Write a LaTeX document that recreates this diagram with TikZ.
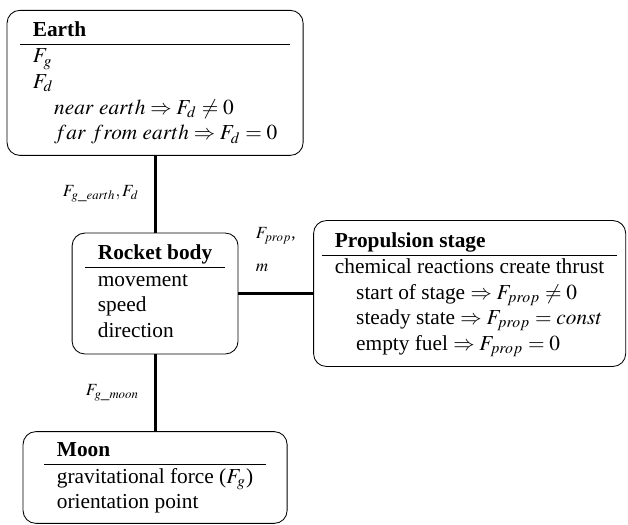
\documentclass[tikz,border=0pt]{standalone}
\usepackage{mathptmx}
\usepackage{fontspec}
\setmainfont{Liberation Serif}
\usetikzlibrary{positioning}

\begin{document}
\begin{tikzpicture}[
      node distance=36pt and 35pt,
      block/.style={draw,rounded corners=6pt,inner xsep=4pt,inner ysep=3pt},
      link/.style={line width=1.4pt},
      lbl/.style={font=\footnotesize},
    ]
    \useasboundingbox (-72.7pt,-108.1pt) rectangle (221.7pt,137.6pt);

    % central block
    \node[block,minimum width=77.8pt,minimum height=56.7pt] (rocket) at (0,0)
      {\begin{tabular}{l}\textbf{Rocket body}\\\hline
        movement\\
        speed\\
        direction
      \end{tabular}};

    % surrounding blocks
    \node[block,above=of rocket,minimum width=138.8pt,minimum height=68pt] (earth)
      {\begin{tabular}{l}\textbf{Earth}\\\hline
        $F_g$\\
        $F_d$\\
        \quad$near\ earth \Rightarrow F_d \neq 0$\\
        \quad$far\ from\ earth \Rightarrow F_d = 0$
      \end{tabular}};
    \node[block,right=of rocket,minimum width=145.8pt,minimum height=68.4pt] (prop)
      {\begin{tabular}{l}\textbf{Propulsion stage}\\\hline
        chemical reactions create thrust\\
        \quad start of stage $\Rightarrow F_{prop} \neq 0$\\
        \quad steady state $\Rightarrow F_{prop} = const$\\
        \quad empty fuel $\Rightarrow F_{prop} = 0$
      \end{tabular}};
    \node[block,below=of rocket,minimum width=123.8pt,minimum height=43pt] (moon)
      {\begin{tabular}{l}\textbf{Moon}\\\hline
        gravitational force ($F_g$)\\
        orientation point
      \end{tabular}};

    % connections
    \draw[link] (earth) -- (rocket)
      node[lbl,midway,left=3.5pt] {$F_{g\_earth}, F_d$};
    \draw[link] (rocket) -- (prop)
      node[lbl,midway,above=6pt,align=left] {$F_{prop}$,\\[6pt]$m$};
    \draw[link] (rocket) -- (moon)
      node[lbl,midway,left=3.5pt] {$F_{g\_moon}$};
  \end{tikzpicture}
\end{document}
